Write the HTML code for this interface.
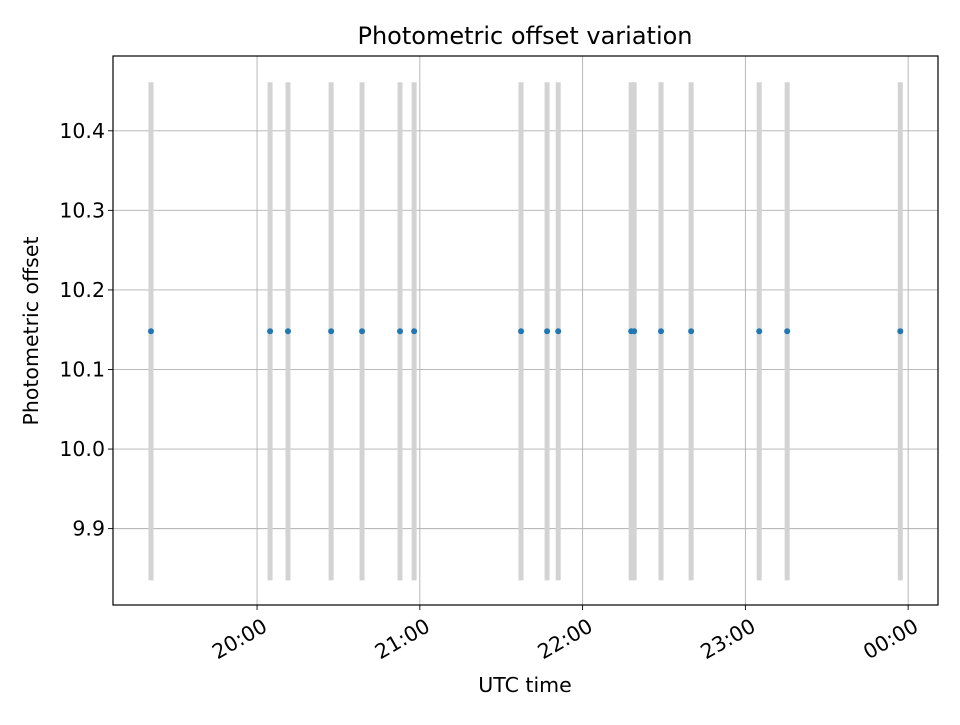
<!DOCTYPE html>
<html><head><meta charset="utf-8"><style>
body{margin:0;background:#fff;}
svg text{font-family:"DejaVu Sans","Liberation Sans",sans-serif;fill:#000;}
</style></head><body>
<svg id="chart" width="960" height="720" xmlns="http://www.w3.org/2000/svg">
<rect width="960" height="720" fill="#fff"/>
<text x="525" y="44" font-size="24" text-anchor="middle">Photometric offset variation</text>
<g id="grid"></g>
<g id="bars"></g>
<g id="points"></g>
<rect x="113" y="56" width="825" height="549" fill="none" stroke="#000" stroke-width="1.2"/>
<g id="ticks"></g>
<text x="525" y="692" font-size="20.5" text-anchor="middle">UTC time</text>
<text transform="translate(38,331) rotate(-90)" font-size="20.5" text-anchor="middle">Photometric offset</text>
</svg>
<script>
// minutes relative to 20:00 UTC
const times = [-39.1, 4.8, 11.4, 27.3, 38.7, 52.7, 57.9, 97.3, 106.9, 111.0, 137.9, 139.0, 148.9, 160.0, 185.1, 195.4, 237.1];
const offsets = [10.148,10.148,10.148,10.148,10.148,10.148,10.148,10.148,10.148,10.148,10.148,10.148,10.148,10.148,10.148,10.148,10.148];
const errors = [0.313,0.313,0.313,0.313,0.313,0.313,0.313,0.313,0.313,0.313,0.313,0.313,0.313,0.313,0.313,0.313,0.313];
const xTickVals = [0, 60, 120, 180, 240];
const xTickLabels = ["20:00", "21:00", "22:00", "23:00", "00:00"];
const yTickVals = [9.9, 10.0, 10.1, 10.2, 10.3, 10.4];
const yTickLabels = ["9.9", "10.0", "10.1", "10.2", "10.3", "10.4"];

const L=113,R=938,T=56,B=605;
const xMin=-53.1,xMax=251.0,yMin=9.804,yMax=10.494;
const sx=v=>L+(v-xMin)/(xMax-xMin)*(R-L);
const sy=v=>B-(v-yMin)/(yMax-yMin)*(B-T);
const NS="http://www.w3.org/2000/svg";
function mk(tag,attrs,parent){const e=document.createElementNS(NS,tag);for(const k in attrs)e.setAttribute(k,attrs[k]);document.getElementById(parent).appendChild(e);return e;}

xTickVals.forEach((v,i)=>{
  const x=sx(v);
  const g=mk('line',{x1:x,x2:x,y1:T,y2:B,stroke:'#b0b0b0','stroke-width':0.9},'grid');
  
  
  const t=mk('line',{x1:x,x2:x,y1:B,y2:B+5,stroke:'#000','stroke-width':0.9},'ticks');
  
  
  const lb=mk('text',{transform:`translate(${x+4},${B+12}) rotate(-30)`,'font-size':20.5,'text-anchor':'end','dominant-baseline':'hanging'},'ticks');
  lb.textContent=xTickLabels[i];
  
  
});
yTickVals.forEach((v,i)=>{
  const y=sy(v);
  const g=mk('line',{x1:L,x2:R,y1:y,y2:y,stroke:'#b0b0b0','stroke-width':0.9},'grid');
  
  
  const t=mk('line',{x1:L-5,x2:L,y1:y,y2:y,stroke:'#000','stroke-width':0.9},'ticks');
  
  
  const lb=mk('text',{x:L-8,y:y+7,'font-size':20.5,'text-anchor':'end'},'ticks');
  lb.textContent=yTickLabels[i];
  
  
});
times.forEach((t,i)=>{
  const x=sx(t);
  const b=mk('line',{x1:x,x2:x,y1:sy(offsets[i]+errors[i]),y2:sy(offsets[i]-errors[i]),stroke:'#d3d3d3','stroke-width':5},'bars');
  
  
  const p=mk('circle',{cx:x,cy:sy(offsets[i]),r:3,fill:'#1f77b4'},'points');
  
  
});
</script>
</body></html>
